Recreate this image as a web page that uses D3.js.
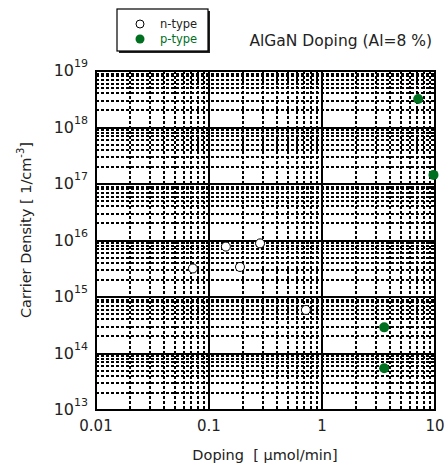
<!DOCTYPE html>
<html>
<head>
<meta charset="utf-8">
<script src="https://cdn.jsdelivr.net/npm/d3@7"></script>
<style>
  body { margin: 0; background: #fff; }
  text { font-family: "DejaVu Sans", "Noto Sans", sans-serif; fill: #222; }
</style>
</head>
<body>
<script>
// n-type (open) and p-type (filled) samples
const nDoping = [0.072, 0.141, 0.283, 0.188, 0.72];
const nCarrier = [3.2e15, 7.8e15, 8.9e15, 3.4e15, 5.9e14];
const pDoping = [7.1, 9.7, 3.55, 3.55];
const pCarrier = [3.2e18, 1.45e17, 2.9e14, 5.5e13];

const xTicks = [0.01, 0.1, 1, 10];
const xTickLabels = ["0.01", "0.1", "1", "10"];
const yExponents = [13, 14, 15, 16, 17, 18, 19];

const W = 446, H = 468;
const margin = {top: 71, right: 11, bottom: 58, left: 96};
const width = W - margin.left - margin.right;
const height = H - margin.top - margin.bottom;
const green = "#006f1f";

const svg = d3.select("body").append("svg")
  .attr("width", W)
  .attr("height", H);

const x = d3.scaleLog().domain([0.01, 10]).range([0, width]);
const y = d3.scaleLog().domain([1e13, 1e19]).range([height, 0]);

const g = svg.append("g")
  .attr("transform", `translate(${margin.left},${margin.top})`);

// minor grid (2..9 each decade)
const minorX = [], minorY = [];
for (let e = -2; e < 1; e++) for (let m = 2; m <= 9; m++) minorX.push(m * Math.pow(10, e));
for (let e = 13; e < 19; e++) for (let m = 2; m <= 9; m++) minorY.push(m * Math.pow(10, e));

g.append("g").selectAll("line").data(minorX).enter().append("line")
  .attr("x1", d => Math.round(x(d))).attr("x2", d => Math.round(x(d)))
  .attr("y1", 0).attr("y2", height)
  .attr("stroke", "#000").attr("stroke-width", 2)
  .attr("shape-rendering", "crispEdges")
  .attr("stroke-dasharray", "3,2");

g.append("g").selectAll("line").data(minorY).enter().append("line")
  .attr("y1", d => Math.round(y(d))).attr("y2", d => Math.round(y(d)))
  .attr("x1", 0).attr("x2", width)
  .attr("stroke", "#000").attr("stroke-width", 2)
  .attr("shape-rendering", "crispEdges")
  .attr("stroke-dasharray", "3,2");

// major grid
g.append("g").selectAll("line").data(xTicks).enter().append("line")
  .attr("x1", d => x(d)).attr("x2", d => x(d))
  .attr("y1", 0).attr("y2", height)
  .attr("stroke", "#000").attr("stroke-width", 2)
  .attr("shape-rendering", "crispEdges");

g.append("g").selectAll("line").data(yExponents).enter().append("line")
  .attr("y1", d => y(Math.pow(10, d))).attr("y2", d => y(Math.pow(10, d)))
  .attr("x1", 0).attr("x2", width)
  .attr("stroke", "#000").attr("stroke-width", 2)
  .attr("shape-rendering", "crispEdges");

g.append("rect")
  .attr("width", width).attr("height", height)
  .attr("fill", "none").attr("stroke", "#000").attr("stroke-width", 2.5)
  .attr("shape-rendering", "crispEdges");

// x tick labels
g.append("g").selectAll("text").data(xTicks).enter().append("text")
  .attr("x", d => x(d))
  .attr("y", height + 21)
  .attr("text-anchor", "middle")
  .attr("font-size", 15)
  .text((d, i) => xTickLabels[i]);

// y tick labels 10^n
const yl = g.append("g").selectAll("text").data(yExponents).enter().append("text")
  .attr("x", -8)
  .attr("y", d => y(Math.pow(10, d)) + 5)
  .attr("text-anchor", "end")
  .attr("font-size", 16);
yl.append("tspan").text("10");
yl.append("tspan").attr("dy", -9).attr("font-size", 11).text(d => d);

// points
g.append("g").selectAll("circle").data(nDoping).enter().append("circle")
  .attr("cx", d => x(d))
  .attr("cy", (d, i) => y(nCarrier[i]))
  .attr("r", 4.5)
  .attr("fill", "#fff").attr("stroke", "#000").attr("stroke-width", 1);

g.append("g").selectAll("circle").data(pDoping).enter().append("circle")
  .attr("cx", d => x(d))
  .attr("cy", (d, i) => y(pCarrier[i]))
  .attr("r", 5)
  .attr("fill", green);

// axis titles
svg.append("text")
  .attr("x", 265).attr("y", 460)
  .attr("text-anchor", "middle")
  .attr("font-size", 14.5)
  .text("Doping\u00a0\u00a0[\u00a0\u03bcmol/min]");

const yt = svg.append("text")
  .attr("transform", "translate(31,230) rotate(-90)")
  .attr("text-anchor", "middle")
  .attr("font-size", 14.5);
yt.append("tspan").text("Carrier Density [\u00a01/cm");
yt.append("tspan").attr("dy", -7).attr("font-size", 10).text("-3");
yt.append("tspan").attr("dy", 7).text("]");

// title
svg.append("text")
  .attr("x", 432).attr("y", 46)
  .attr("text-anchor", "end")
  .attr("font-size", 15.5)
  .text("AlGaN Doping (Al=8 %)");

// legend
const lg = svg.append("g");
lg.append("rect").attr("x", 119).attr("y", 11).attr("width", 91).attr("height", 42).attr("fill", "#222");
lg.append("rect").attr("x", 117).attr("y", 9).attr("width", 91).attr("height", 42)
  .attr("fill", "#fff").attr("stroke", "#000").attr("stroke-width", 1.2);
lg.append("circle").attr("cx", 140).attr("cy", 24).attr("r", 4)
  .attr("fill", "#fff").attr("stroke", "#000");
lg.append("text").attr("x", 160).attr("y", 28).attr("font-size", 11.5).text("n-type");
lg.append("circle").attr("cx", 140).attr("cy", 39).attr("r", 4.5).attr("fill", green);
lg.append("text").attr("x", 160).attr("y", 43).attr("font-size", 11.5).style("fill", green).text("p-type");
</script>
</body>
</html>
